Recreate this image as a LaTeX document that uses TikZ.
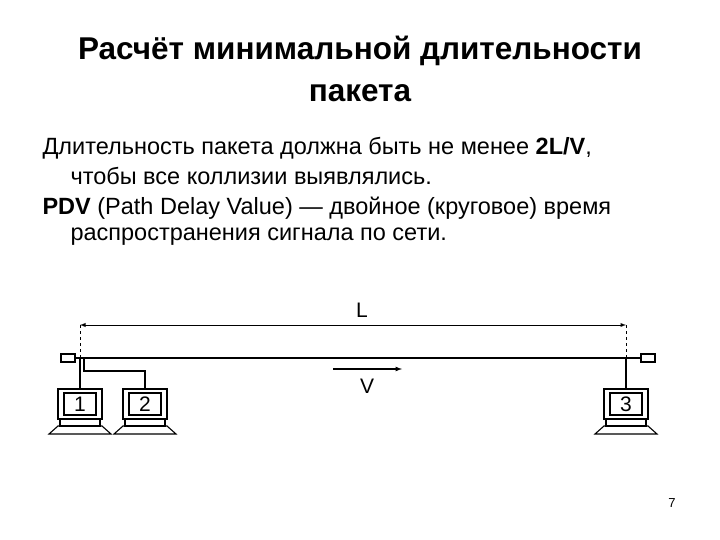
\documentclass[tikz,border=0pt]{standalone}
\usepackage{fontspec}
\setmainfont{Liberation Sans}
\begin{document}
\begin{tikzpicture}[x=1pt,y=-1pt,line width=1.1pt,
  txt/.style={anchor=west,inner sep=0pt,font=\fontsize{23.5}{26}\selectfont},
  term/.style={draw,line width=1.2pt,minimum width=14pt,minimum height=8pt,inner sep=0pt},
  mon/.style={draw,line width=1.3pt,minimum width=44pt,minimum height=30pt,inner sep=0pt},
  scr/.style={draw,line width=1.3pt,minimum width=32pt,minimum height=22pt,inner sep=0pt,font=\fontsize{21}{21}\selectfont},
  wire/.style={line width=1.3pt}]
\useasboundingbox (0,0) rectangle (720,540);
\node[font=\bfseries\fontsize{31.5}{42}\selectfont,align=center] (title) at (360,69) {Расчёт минимальной длительности\\пакета};
\node[txt] (t1) at (42,148) {Длительность пакета должна быть не менее \textbf{2L/V},};
\node[txt] (t2) at (70,176) {чтобы все коллизии выявлялись.};
\node[txt] (t3) at (42,208) {\textbf{PDV} (Path Delay Value) --- двойное (круговое) время};
\node[txt] (t4) at (70,237) {распространения сигнала по сети.};
\node[font=\fontsize{13}{13}\selectfont] (pg) at (672,503) {7};
% bus
\node[term] (tl) at (68,358) {};
\node[term] (tr) at (648,358) {};
\draw[line width=2.2pt] (tl.east) -- (tr.west);
% computers
\foreach \n/\x in {1/80,2/145,3/626}{
  \node[mon] (m\n) at (\x,404) {};
  \node[scr] (s\n) at (\x,404) {\n};
  \draw (\x-20,419) rectangle (\x+20,426);
  \draw (\x-22,426) -- (\x+22,426) -- (\x+31,434) -- (\x-31,434) -- cycle;
}
\coordinate (b1) at (80,358);
\coordinate (b2) at (84,358);
\coordinate (b3) at (626,358);
\draw[wire] (b1) -- (m1.north);
\draw[wire] (b2) |- (145,371) -- (m2.north);
\draw[wire] (b3) -- (m3.north);
% dimension L
\coordinate (d1) at (80,325);
\coordinate (d2) at (626,325);
\draw[dashed,line width=0.8pt] (d1) -- (b1);
\draw[dashed,line width=0.8pt] (d2) -- (b3);
\draw[latex-latex,line width=0.9pt] (d1) -- (d2);
\node[font=\fontsize{21}{21}\selectfont] (L) at (362,310) {L};
% V
\coordinate (v1) at (333,369);
\coordinate (v2) at (402,369);
\draw[-latex,line width=1.2pt] (v1) -- (v2);
\node[font=\fontsize{21}{21}\selectfont] (V) at (367,386) {V};
\end{tikzpicture}
\end{document}
